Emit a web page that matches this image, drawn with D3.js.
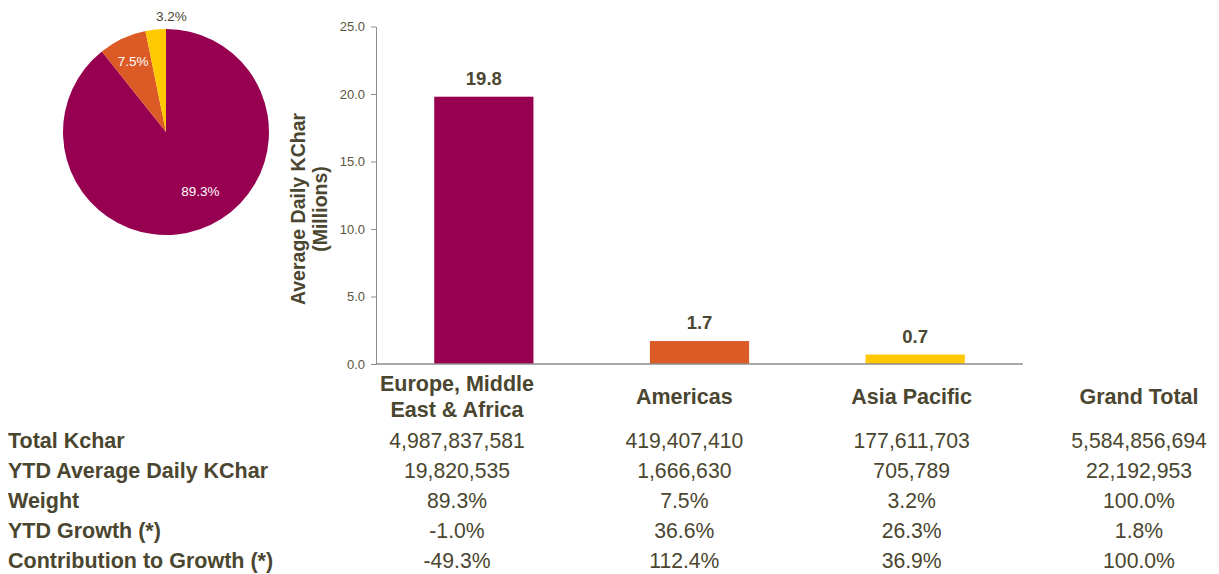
<!DOCTYPE html>
<html>
<head>
<meta charset="utf-8">
<script src="https://cdn.jsdelivr.net/npm/d3@7"></script>
<style>
  body { margin: 0; background: #fff; }
  text { font-family: "Liberation Sans", Arial, sans-serif; }
</style>
</head>
<body>
<svg width="1219" height="574"></svg>
<script>
const regions = ["Europe, Middle East & Africa", "Americas", "Asia Pacific"];
const regionLines = [["Europe, Middle", "East & Africa"], ["Americas"], ["Asia Pacific"]];
const avgDaily = [19.8, 1.7, 0.7];
const weights = [89.3, 7.5, 3.2];
const colors = ["#970051", "#dc5a26", "#ffc800"];
const yTicks = [0, 5, 10, 15, 20, 25];

const rowLabels = ["Total Kchar", "YTD Average Daily KChar", "Weight", "YTD Growth (*)", "Contribution to Growth (*)"];
const colLabels = ["Europe, Middle East & Africa", "Americas", "Asia Pacific", "Grand Total"];
const tableValues = [
    ["4,987,837,581", "419,407,410", "177,611,703", "5,584,856,694"],
    ["19,820,535", "1,666,630", "705,789", "22,192,953"],
    ["89.3%", "7.5%", "3.2%", "100.0%"],
    ["-1.0%", "36.6%", "26.3%", "1.8%"],
    ["-49.3%", "112.4%", "36.9%", "100.0%"]
];

const textColor = "#4a4630";
const svg = d3.select("svg");

// pie
const cx = 166, cy = 132, r = 103;
const pieG = svg.append("g").attr("transform", "translate(" + cx + "," + cy + ")");
const pie = d3.pie().sort(null).value(d => d);
const arc = d3.arc().innerRadius(0).outerRadius(r);
const arcs = pie(weights);

pieG.selectAll("path")
    .data(arcs)
    .enter().append("path")
        .attr("d", arc)
        .attr("fill", (d, i) => colors[i]);

// label placement (excel-like)
const labelArc = [0.66, 0.78, 1.13];
const labelShift = [[12, -5], [1, 2], [17, 0]];
pieG.selectAll(".plabel")
    .data(arcs)
    .enter().append("text")
        .attr("class", "plabel")
        .attr("transform", (d, i) => {
            const c = d3.arc().innerRadius(r * labelArc[i]).outerRadius(r * labelArc[i]).centroid(d);
            return "translate(" + (c[0] + labelShift[i][0]) + "," + (c[1] + labelShift[i][1]) + ")";
        })
        .attr("text-anchor", "middle")
        .attr("dy", "0.35em")
        .attr("font-family", "Open Sans")
        .attr("font-size", 13.5)
        .attr("fill", (d, i) => i === 2 ? textColor : "#fff")
        .text((d, i) => weights[i].toFixed(1) + "%");

// bars
const x = d3.scaleBand().domain(regions).range([376, 1023])
    .paddingInner(0.54).paddingOuter(0.27);
const y = d3.scaleLinear().domain([0, 25]).range([364, 26.5]);

const yAxis = svg.append("g")
    .attr("transform", "translate(376,0)")
    .call(d3.axisLeft(y).tickValues(yTicks).tickFormat(d3.format(".1f")).tickSize(5).tickSizeOuter(0));
yAxis.select(".domain").attr("stroke", "#8c8c8c");
yAxis.selectAll(".tick line").attr("stroke", "#8c8c8c");
yAxis.selectAll(".tick text")
    .attr("font-family", "Liberation Sans")
    .attr("font-size", 13)
    .attr("fill", "#5a5640")
    .attr("x", -11);

svg.selectAll(".bar")
    .data(avgDaily)
    .enter().append("rect")
        .attr("class", "bar")
        .attr("x", (d, i) => x(regions[i]))
        .attr("y", d => y(d))
        .attr("width", x.bandwidth())
        .attr("height", d => y(0) - y(d))
        .attr("fill", (d, i) => colors[i]);

svg.append("line")
    .attr("x1", 376).attr("x2", 1023)
    .attr("y1", y(0)).attr("y2", y(0))
    .attr("stroke", "#8c8c8c").attr("stroke-width", 1.5);

svg.selectAll(".vlabel")
    .data(avgDaily)
    .enter().append("text")
        .attr("class", "vlabel")
        .attr("x", (d, i) => x(regions[i]) + x.bandwidth() / 2)
        .attr("y", d => y(d) - 12)
        .attr("text-anchor", "middle")
        .attr("font-weight", "bold")
        .attr("font-size", 18.5)
        .attr("fill", textColor)
        .text(d => d.toFixed(1));

// y title
const yt = svg.append("text")
    .attr("transform", "translate(305,209) rotate(-90)")
    .attr("text-anchor", "middle")
    .attr("font-weight", "bold")
    .attr("font-size", 19.5)
    .attr("fill", textColor);
yt.append("tspan").attr("x", 0).attr("dy", 0).text("Average Daily KChar");
yt.append("tspan").attr("x", 0).attr("dy", 22).text("(Millions)");

// table columns (own grid, not the bar bands)
const tx = d3.scalePoint().domain(colLabels).range([457, 1139]);

colLabels.forEach((c, i) => {
    const lines = i < 3 ? regionLines[i] : [c];
    const t = svg.append("text")
        .attr("text-anchor", "middle")
        .attr("font-weight", "bold")
        .attr("font-size", 21.5)
        .attr("fill", textColor);
    const y0 = lines.length === 2 ? 390.5 : 403.5;
    lines.forEach((l, j) => {
        t.append("tspan").attr("x", tx(c)).attr("y", y0 + j * 26).text(l);
    });
});

rowLabels.forEach((lab, ri) => {
    const ry = 447.5 + ri * 30;
    svg.append("text")
        .attr("x", 8).attr("y", ry)
        .attr("font-weight", "bold")
        .attr("font-size", 21.5)
        .attr("fill", textColor)
        .text(lab);
    tableValues[ri].forEach((v, ci) => {
        svg.append("text")
            .attr("x", tx(colLabels[ci])).attr("y", ry)
            .attr("text-anchor", "middle")
            .attr("font-size", 21.2)
            .attr("fill", textColor)
            .text(v);
    });
});
</script>
</body>
</html>
